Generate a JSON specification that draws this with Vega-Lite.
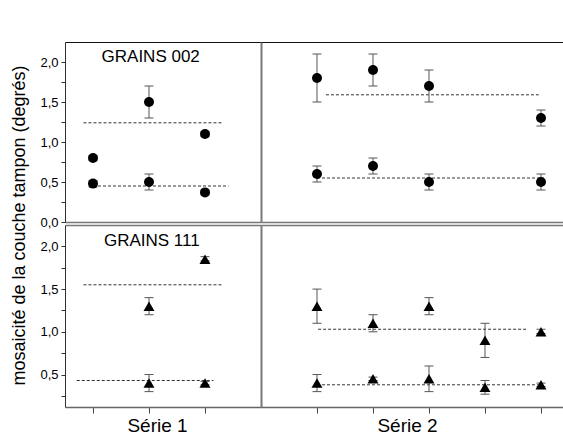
{
  "$schema": "https://vega.github.io/schema/vega-lite/v6.json",
  "padding": {"left": 10, "top": 42, "right": 0, "bottom": 0},
  "bounds": "flush",
  "columns": 2,
  "spacing": {"row": 3, "column": 0},
  "config": {
    "view": {"stroke": null},
    "font": "Liberation Sans",
    "axis": {"grid": false, "labelFont": "Liberation Sans", "titleFont": "Liberation Sans", "labelColor": "#000", "titleColor": "#000", "titleFontWeight": "normal"}
  },
  "datasets": {
    "pts": [
      {"panel": "TL", "x": 1, "y": 0.80, "lo": 0.77, "hi": 0.83},
      {"panel": "TL", "x": 1, "y": 0.48, "lo": 0.44, "hi": 0.52},
      {"panel": "TL", "x": 2, "y": 1.50, "lo": 1.30, "hi": 1.70},
      {"panel": "TL", "x": 2, "y": 0.50, "lo": 0.40, "hi": 0.60},
      {"panel": "TL", "x": 3, "y": 1.10, "lo": 1.07, "hi": 1.13},
      {"panel": "TL", "x": 3, "y": 0.37, "lo": 0.34, "hi": 0.40},
      {"panel": "TR", "x": 1, "y": 1.80, "lo": 1.50, "hi": 2.10},
      {"panel": "TR", "x": 1, "y": 0.60, "lo": 0.50, "hi": 0.70},
      {"panel": "TR", "x": 2, "y": 1.90, "lo": 1.70, "hi": 2.10},
      {"panel": "TR", "x": 2, "y": 0.70, "lo": 0.60, "hi": 0.80},
      {"panel": "TR", "x": 3, "y": 1.70, "lo": 1.50, "hi": 1.90},
      {"panel": "TR", "x": 3, "y": 0.50, "lo": 0.40, "hi": 0.60},
      {"panel": "TR", "x": 5, "y": 1.30, "lo": 1.20, "hi": 1.40},
      {"panel": "TR", "x": 5, "y": 0.50, "lo": 0.40, "hi": 0.60},
      {"panel": "BL", "x": 2, "y": 1.30, "lo": 1.20, "hi": 1.40},
      {"panel": "BL", "x": 2, "y": 0.40, "lo": 0.30, "hi": 0.50},
      {"panel": "BL", "x": 3, "y": 1.85, "lo": 1.83, "hi": 1.88},
      {"panel": "BL", "x": 3, "y": 0.40, "lo": 0.38, "hi": 0.42},
      {"panel": "BR", "x": 1, "y": 1.30, "lo": 1.10, "hi": 1.50},
      {"panel": "BR", "x": 1, "y": 0.40, "lo": 0.30, "hi": 0.50},
      {"panel": "BR", "x": 2, "y": 1.10, "lo": 1.00, "hi": 1.20},
      {"panel": "BR", "x": 2, "y": 0.45, "lo": 0.43, "hi": 0.47},
      {"panel": "BR", "x": 3, "y": 1.30, "lo": 1.20, "hi": 1.40},
      {"panel": "BR", "x": 3, "y": 0.45, "lo": 0.30, "hi": 0.60},
      {"panel": "BR", "x": 4, "y": 0.90, "lo": 0.70, "hi": 1.10},
      {"panel": "BR", "x": 4, "y": 0.35, "lo": 0.27, "hi": 0.43},
      {"panel": "BR", "x": 5, "y": 1.00, "lo": 0.98, "hi": 1.03},
      {"panel": "BR", "x": 5, "y": 0.38, "lo": 0.36, "hi": 0.40}
    ],
    "dash": [
      {"panel": "TL", "x1": 0.83, "x2": 3.30, "y": 1.24},
      {"panel": "TL", "x1": 1.00, "x2": 3.42, "y": 0.45},
      {"panel": "TR", "x1": 1.16, "x2": 4.96, "y": 1.59},
      {"panel": "TR", "x1": 1.00, "x2": 5.05, "y": 0.55},
      {"panel": "BL", "x1": 0.83, "x2": 3.30, "y": 1.55},
      {"panel": "BL", "x1": 0.71, "x2": 3.15, "y": 0.43},
      {"panel": "BR", "x1": 1.02, "x2": 4.77, "y": 1.03},
      {"panel": "BR", "x1": 1.00, "x2": 4.96, "y": 0.38}
    ],
    "lbl": [
      {"panel": "TL", "x": 2.03, "y": 2.06, "label": "GRAINS 002"},
      {"panel": "BL", "x": 2.05, "y": 2.06, "label": "GRAINS 111"}
    ]
  },
  "concat": [
    {
      "width": 196, "height": 180,
      "resolve": {"axis": {"x": "independent", "y": "independent"}},
      "layer": [
        {
          "data": {"name": "dash"}, "transform": [{"filter": "datum.panel == 'TL'"}],
          "mark": {"type": "rule", "strokeDash": [3, 2], "color": "#333", "strokeWidth": 1},
          "encoding": {
            "x": {"field": "x1", "type": "quantitative", "scale": {"domain": [0.5, 4], "nice": false, "zero": false}, "axis": {"orient": "bottom", "domainColor": "#777", "domainWidth": 1.5, "ticks": false, "labels": false, "title": null}},
            "x2": {"field": "x2"},
            "y": {"field": "y", "type": "quantitative", "scale": {"domain": [0, 2.25], "nice": false, "zero": false}, "axis": {"orient": "left", "values": [0, 0.25, 0.5, 0.75, 1, 1.25, 1.5, 1.75, 2], "labelExpr": "(datum.value * 2) % 1 == 0 ? replace(format(datum.value, '.1f'), '.', ',') : ''", "labelFontSize": 13, "labelPadding": 3, "tickSize": 4, "tickColor": "#333", "domainColor": "#333", "labelOverlap": false, "title": null}}
          }
        },
        {
          "data": {"name": "pts"}, "transform": [{"filter": "datum.panel == 'TL'"}],
          "mark": {"type": "rule", "color": "#555"},
          "encoding": {
            "x": {"field": "x", "type": "quantitative", "scale": {"domain": [0.5, 4], "nice": false, "zero": false}, "axis": {"orient": "top", "domainColor": "#111", "ticks": false, "labels": false, "title": null}},
            "y": {"field": "lo", "type": "quantitative", "scale": {"domain": [0, 2.25], "nice": false, "zero": false}, "axis": {"orient": "right", "domainColor": "#777", "domainWidth": 2, "ticks": false, "labels": false, "title": null}},
            "y2": {"field": "hi"}
          }
        },
        {
          "data": {"name": "pts"}, "transform": [{"filter": "datum.panel == 'TL'"}],
          "mark": {"type": "tick", "orient": "horizontal", "size": 9, "thickness": 1, "color": "#555", "opacity": 1},
          "encoding": {
            "x": {"field": "x", "type": "quantitative", "scale": {"domain": [0.5, 4], "nice": false, "zero": false}, "axis": null},
            "y": {"field": "lo", "type": "quantitative", "scale": {"domain": [0, 2.25], "nice": false, "zero": false}, "axis": null}
          }
        },
        {
          "data": {"name": "pts"}, "transform": [{"filter": "datum.panel == 'TL'"}],
          "mark": {"type": "tick", "orient": "horizontal", "size": 9, "thickness": 1, "color": "#555", "opacity": 1},
          "encoding": {
            "x": {"field": "x", "type": "quantitative", "scale": {"domain": [0.5, 4], "nice": false, "zero": false}, "axis": null},
            "y": {"field": "hi", "type": "quantitative", "scale": {"domain": [0, 2.25], "nice": false, "zero": false}, "axis": null}
          }
        },
        {
          "data": {"name": "pts"}, "transform": [{"filter": "datum.panel == 'TL'"}],
          "mark": {"type": "point", "shape": "circle", "filled": true, "size": 100, "color": "#000", "opacity": 1},
          "encoding": {
            "x": {"field": "x", "type": "quantitative", "scale": {"domain": [0.5, 4], "nice": false, "zero": false}, "axis": null},
            "y": {"field": "y", "type": "quantitative", "scale": {"domain": [0, 2.25], "nice": false, "zero": false}, "axis": null}
          }
        },
        {
          "data": {"name": "lbl"}, "transform": [{"filter": "datum.panel == 'TL'"}],
          "mark": {"type": "text", "fontSize": 17, "align": "center", "baseline": "middle", "color": "#000"},
          "encoding": {
            "x": {"field": "x", "type": "quantitative", "scale": {"domain": [0.5, 4], "nice": false, "zero": false}, "axis": null},
            "y": {"field": "y", "type": "quantitative", "scale": {"domain": [0, 2.25], "nice": false, "zero": false}, "axis": null},
            "text": {"field": "label"}
          }
        }
      ]
    },
    {
      "width": 302, "height": 180,
      "resolve": {"axis": {"x": "independent", "y": "independent"}},
      "layer": [
        {
          "data": {"name": "dash"}, "transform": [{"filter": "datum.panel == 'TR'"}],
          "mark": {"type": "rule", "strokeDash": [3, 2], "color": "#333", "strokeWidth": 1},
          "encoding": {
            "x": {"field": "x1", "type": "quantitative", "scale": {"domain": [0, 5.393], "nice": false, "zero": false}, "axis": {"orient": "bottom", "domainColor": "#777", "domainWidth": 1.5, "ticks": false, "labels": false, "title": null}},
            "x2": {"field": "x2"},
            "y": {"field": "y", "type": "quantitative", "scale": {"domain": [0, 2.25], "nice": false, "zero": false}, "axis": null}
          }
        },
        {
          "data": {"name": "pts"}, "transform": [{"filter": "datum.panel == 'TR'"}],
          "mark": {"type": "rule", "color": "#555"},
          "encoding": {
            "x": {"field": "x", "type": "quantitative", "scale": {"domain": [0, 5.393], "nice": false, "zero": false}, "axis": {"orient": "top", "domainColor": "#111", "ticks": false, "labels": false, "title": null}},
            "y": {"field": "lo", "type": "quantitative", "scale": {"domain": [0, 2.25], "nice": false, "zero": false}, "axis": null},
            "y2": {"field": "hi"}
          }
        },
        {
          "data": {"name": "pts"}, "transform": [{"filter": "datum.panel == 'TR'"}],
          "mark": {"type": "tick", "orient": "horizontal", "size": 9, "thickness": 1, "color": "#555", "opacity": 1},
          "encoding": {
            "x": {"field": "x", "type": "quantitative", "scale": {"domain": [0, 5.393], "nice": false, "zero": false}, "axis": null},
            "y": {"field": "lo", "type": "quantitative", "scale": {"domain": [0, 2.25], "nice": false, "zero": false}, "axis": null}
          }
        },
        {
          "data": {"name": "pts"}, "transform": [{"filter": "datum.panel == 'TR'"}],
          "mark": {"type": "tick", "orient": "horizontal", "size": 9, "thickness": 1, "color": "#555", "opacity": 1},
          "encoding": {
            "x": {"field": "x", "type": "quantitative", "scale": {"domain": [0, 5.393], "nice": false, "zero": false}, "axis": null},
            "y": {"field": "hi", "type": "quantitative", "scale": {"domain": [0, 2.25], "nice": false, "zero": false}, "axis": null}
          }
        },
        {
          "data": {"name": "pts"}, "transform": [{"filter": "datum.panel == 'TR'"}],
          "mark": {"type": "point", "shape": "circle", "filled": true, "size": 100, "color": "#000", "opacity": 1},
          "encoding": {
            "x": {"field": "x", "type": "quantitative", "scale": {"domain": [0, 5.393], "nice": false, "zero": false}, "axis": null},
            "y": {"field": "y", "type": "quantitative", "scale": {"domain": [0, 2.25], "nice": false, "zero": false}, "axis": null}
          }
        }
      ]
    },
    {
      "width": 196, "height": 182,
      "resolve": {"axis": {"x": "independent", "y": "independent"}},
      "layer": [
        {
          "data": {"name": "dash"}, "transform": [{"filter": "datum.panel == 'BL'"}],
          "mark": {"type": "rule", "strokeDash": [3, 2], "color": "#333", "strokeWidth": 1},
          "encoding": {
            "x": {"field": "x1", "type": "quantitative", "scale": {"domain": [0.5, 4], "nice": false, "zero": false}, "axis": {"orient": "bottom", "values": [1, 2, 3], "labels": false, "tickSize": 6, "tickColor": "#444", "domainColor": "#666", "domainWidth": 1.5, "title": "Série 1", "titleFontSize": 19, "titleX": 92, "titlePadding": 3}},
            "x2": {"field": "x2"},
            "y": {"field": "y", "type": "quantitative", "scale": {"domain": [0.12, 2.25], "nice": false, "zero": false}, "axis": {"orient": "left", "values": [0.25, 0.5, 0.75, 1, 1.25, 1.5, 1.75, 2], "labelExpr": "(datum.value * 2) % 1 == 0 ? replace(format(datum.value, '.1f'), '.', ',') : ''", "labelFontSize": 13, "labelPadding": 3, "tickSize": 4, "tickColor": "#333", "domainColor": "#333", "labelOverlap": false, "title": "mosaicité de la couche tampon (degrés)", "titleFontSize": 18, "titleY": 0, "titlePadding": 11}}
          }
        },
        {
          "data": {"name": "pts"}, "transform": [{"filter": "datum.panel == 'BL'"}],
          "mark": {"type": "rule", "color": "#555"},
          "encoding": {
            "x": {"field": "x", "type": "quantitative", "scale": {"domain": [0.5, 4], "nice": false, "zero": false}, "axis": {"orient": "top", "domainColor": "#777", "domainWidth": 1.5, "ticks": false, "labels": false, "title": null}},
            "y": {"field": "lo", "type": "quantitative", "scale": {"domain": [0.12, 2.25], "nice": false, "zero": false}, "axis": {"orient": "right", "domainColor": "#777", "domainWidth": 2, "ticks": false, "labels": false, "title": null}},
            "y2": {"field": "hi"}
          }
        },
        {
          "data": {"name": "pts"}, "transform": [{"filter": "datum.panel == 'BL'"}],
          "mark": {"type": "tick", "orient": "horizontal", "size": 9, "thickness": 1, "color": "#555", "opacity": 1},
          "encoding": {
            "x": {"field": "x", "type": "quantitative", "scale": {"domain": [0.5, 4], "nice": false, "zero": false}, "axis": null},
            "y": {"field": "lo", "type": "quantitative", "scale": {"domain": [0.12, 2.25], "nice": false, "zero": false}, "axis": null}
          }
        },
        {
          "data": {"name": "pts"}, "transform": [{"filter": "datum.panel == 'BL'"}],
          "mark": {"type": "tick", "orient": "horizontal", "size": 9, "thickness": 1, "color": "#555", "opacity": 1},
          "encoding": {
            "x": {"field": "x", "type": "quantitative", "scale": {"domain": [0.5, 4], "nice": false, "zero": false}, "axis": null},
            "y": {"field": "hi", "type": "quantitative", "scale": {"domain": [0.12, 2.25], "nice": false, "zero": false}, "axis": null}
          }
        },
        {
          "data": {"name": "pts"}, "transform": [{"filter": "datum.panel == 'BL'"}],
          "mark": {"type": "point", "shape": "triangle-up", "filled": true, "size": 120, "color": "#000", "opacity": 1},
          "encoding": {
            "x": {"field": "x", "type": "quantitative", "scale": {"domain": [0.5, 4], "nice": false, "zero": false}, "axis": null},
            "y": {"field": "y", "type": "quantitative", "scale": {"domain": [0.12, 2.25], "nice": false, "zero": false}, "axis": null}
          }
        },
        {
          "data": {"name": "lbl"}, "transform": [{"filter": "datum.panel == 'BL'"}],
          "mark": {"type": "text", "fontSize": 17, "align": "center", "baseline": "middle", "color": "#000"},
          "encoding": {
            "x": {"field": "x", "type": "quantitative", "scale": {"domain": [0.5, 4], "nice": false, "zero": false}, "axis": null},
            "y": {"field": "y", "type": "quantitative", "scale": {"domain": [0.12, 2.25], "nice": false, "zero": false}, "axis": null},
            "text": {"field": "label"}
          }
        }
      ]
    },
    {
      "width": 302, "height": 182,
      "resolve": {"axis": {"x": "independent", "y": "independent"}},
      "layer": [
        {
          "data": {"name": "dash"}, "transform": [{"filter": "datum.panel == 'BR'"}],
          "mark": {"type": "rule", "strokeDash": [3, 2], "color": "#333", "strokeWidth": 1},
          "encoding": {
            "x": {"field": "x1", "type": "quantitative", "scale": {"domain": [0, 5.393], "nice": false, "zero": false}, "axis": {"orient": "bottom", "values": [1, 2, 3, 4, 5], "labels": false, "tickSize": 6, "tickColor": "#444", "domainColor": "#666", "domainWidth": 1.5, "title": "Série 2", "titleFontSize": 19, "titleX": 146, "titlePadding": 3}},
            "x2": {"field": "x2"},
            "y": {"field": "y", "type": "quantitative", "scale": {"domain": [0.12, 2.25], "nice": false, "zero": false}, "axis": null}
          }
        },
        {
          "data": {"name": "pts"}, "transform": [{"filter": "datum.panel == 'BR'"}],
          "mark": {"type": "rule", "color": "#555"},
          "encoding": {
            "x": {"field": "x", "type": "quantitative", "scale": {"domain": [0, 5.393], "nice": false, "zero": false}, "axis": {"orient": "top", "domainColor": "#777", "domainWidth": 1.5, "ticks": false, "labels": false, "title": null}},
            "y": {"field": "lo", "type": "quantitative", "scale": {"domain": [0.12, 2.25], "nice": false, "zero": false}, "axis": null},
            "y2": {"field": "hi"}
          }
        },
        {
          "data": {"name": "pts"}, "transform": [{"filter": "datum.panel == 'BR'"}],
          "mark": {"type": "tick", "orient": "horizontal", "size": 9, "thickness": 1, "color": "#555", "opacity": 1},
          "encoding": {
            "x": {"field": "x", "type": "quantitative", "scale": {"domain": [0, 5.393], "nice": false, "zero": false}, "axis": null},
            "y": {"field": "lo", "type": "quantitative", "scale": {"domain": [0.12, 2.25], "nice": false, "zero": false}, "axis": null}
          }
        },
        {
          "data": {"name": "pts"}, "transform": [{"filter": "datum.panel == 'BR'"}],
          "mark": {"type": "tick", "orient": "horizontal", "size": 9, "thickness": 1, "color": "#555", "opacity": 1},
          "encoding": {
            "x": {"field": "x", "type": "quantitative", "scale": {"domain": [0, 5.393], "nice": false, "zero": false}, "axis": null},
            "y": {"field": "hi", "type": "quantitative", "scale": {"domain": [0.12, 2.25], "nice": false, "zero": false}, "axis": null}
          }
        },
        {
          "data": {"name": "pts"}, "transform": [{"filter": "datum.panel == 'BR'"}],
          "mark": {"type": "point", "shape": "triangle-up", "filled": true, "size": 120, "color": "#000", "opacity": 1},
          "encoding": {
            "x": {"field": "x", "type": "quantitative", "scale": {"domain": [0, 5.393], "nice": false, "zero": false}, "axis": null},
            "y": {"field": "y", "type": "quantitative", "scale": {"domain": [0.12, 2.25], "nice": false, "zero": false}, "axis": null}
          }
        }
      ]
    }
  ]
}
